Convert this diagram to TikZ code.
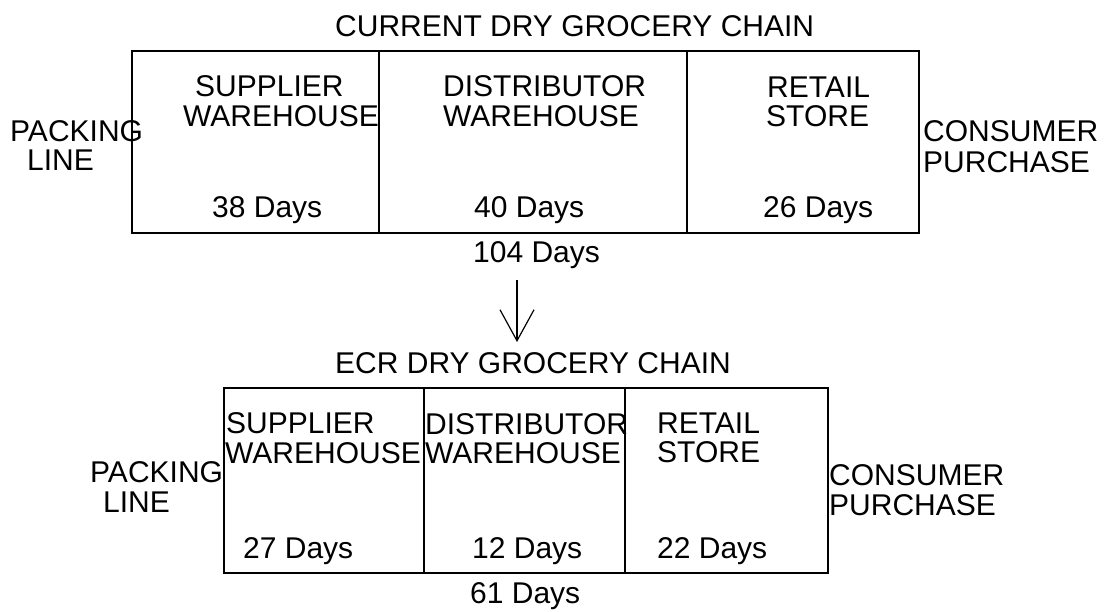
\documentclass[tikz,border=0pt]{standalone}
\usepackage{fontspec}
\setmainfont{Liberation Sans}
\usetikzlibrary{arrows.meta}
\begin{document}
\begin{tikzpicture}[x=1pt,y=-1pt,
  every node/.style={font=\fontsize{30}{30}\selectfont},
  txt/.style={anchor=base west,inner sep=0pt},
  cell/.style={draw,line width=1.6pt,inner sep=0pt},
  flow/.style={line width=1.2pt,-{Straight Barb[length=31pt,width=34pt,line width=1.2pt]}}]
\useasboundingbox (0,0) rectangle (1108,612);
% current chain
\node[txt] (t1) at (335,37) {CURRENT DRY GROCERY CHAIN};
\node[cell,minimum width=247pt,minimum height=182pt] (s1) at (255.5,142) {};
\node[cell,minimum width=308pt,minimum height=182pt] (s2) at (533,142) {};
\node[cell,minimum width=232pt,minimum height=182pt] (s3) at (803,142) {};
\node[txt] (pk1) at (10,142) {PACKING};
\node[txt] (ln1) at (27,171) {LINE};
\node[txt] (sa1) at (195,97) {SUPPLIER};
\node[txt] (sb1) at (183,127) {WAREHOUSE};
\node[txt] (da1) at (443,97) {DISTRIBUTOR};
\node[txt] (db1) at (443,127) {WAREHOUSE};
\node[txt] (ra1) at (767,98) {RETAIL};
\node[txt] (rb1) at (766,127) {STORE};
\node[txt] (sd1) at (212,218) {38 Days};
\node[txt] (dd1) at (474,218) {40 Days};
\node[txt] (rd1) at (763,218) {26 Days};
\node[txt] (ca1) at (923,142) {CONSUMER};
\node[txt] (cb1) at (923,173) {PURCHASE};
\node[txt] (tot1) at (473,263) {104 Days};
% arrow
\coordinate (atop) at (517,280);
\coordinate (abot) at (517,342);
\draw[flow] (atop) -- (abot);
% ECR chain
\node[txt] (t2) at (335,373) {ECR DRY GROCERY CHAIN};
\node[cell,minimum width=200pt,minimum height=185pt] (b1) at (324,480.5) {};
\node[cell,minimum width=201pt,minimum height=185pt] (b2) at (524.5,480.5) {};
\node[cell,minimum width=203pt,minimum height=185pt] (b3) at (726.5,480.5) {};
\node[txt] (pk2) at (90,482) {PACKING};
\node[txt] (ln2) at (103,512) {LINE};
\node[txt] (sa2) at (226,433) {SUPPLIER};
\node[txt] (sb2) at (225,463) {WAREHOUSE};
\node[txt] (da2) at (425,434) {DISTRIBUTOR};
\node[txt] (db2) at (425,463) {WAREHOUSE};
\node[txt] (ra2) at (657,433) {RETAIL};
\node[txt] (rb2) at (657,462) {STORE};
\node[txt] (sd2) at (243,558) {27 Days};
\node[txt] (dd2) at (472,558) {12 Days};
\node[txt] (rd2) at (657,558) {22 Days};
\node[txt] (ca2) at (829,485) {CONSUMER};
\node[txt] (cb2) at (829,515) {PURCHASE};
\node[txt] (tot2) at (470,603) {61 Days};
\end{tikzpicture}
\end{document}
